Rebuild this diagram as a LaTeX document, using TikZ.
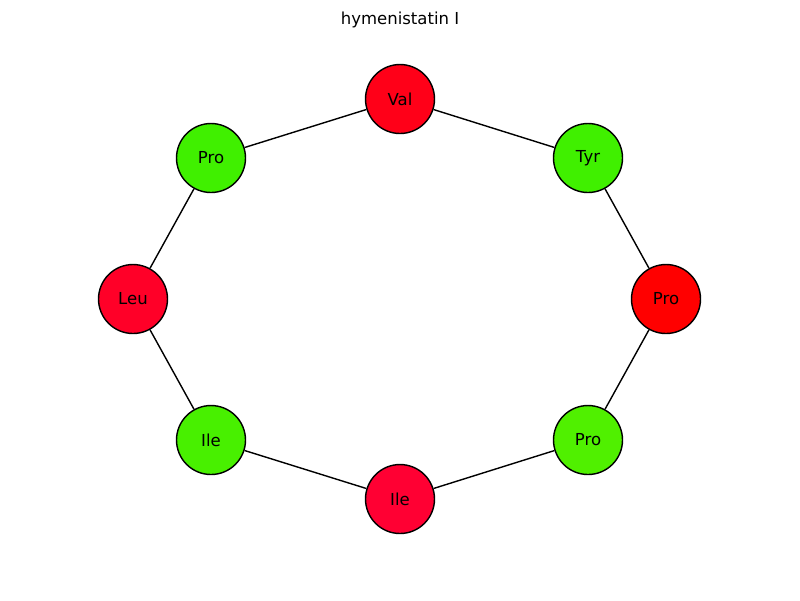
\documentclass[tikz,border=0pt]{standalone}
\usepackage{fontspec}
\setmainfont{DejaVu Sans}
\usepackage{xcolor}
\usetikzlibrary{shapes.geometric}

\definecolor{valred}{HTML}{FF0018}
\definecolor{tyrgreen}{HTML}{40F000}
\definecolor{prored}{HTML}{FF0000}
\definecolor{progreen}{HTML}{50F000}
\definecolor{ilered}{HTML}{FF0033}
\definecolor{ilegreen}{HTML}{48F000}
\definecolor{leured}{HTML}{FF0028}
\definecolor{pgreen}{HTML}{40F000}

\tikzset{
    residue/.style={circle, draw=black, line width=0.8pt, minimum size=1.38cm,
	inner sep=0pt, font=\fontsize{9.4}{11}\selectfont},
    bond/.style={black, line width=0.8pt}
}

\begin{document}
\begin{tikzpicture}[x=0.02cm, y=-0.02cm]
    \useasboundingbox (0, 0) rectangle (800, 600);
    \path (400, 20) node [font=\fontsize{9.4}{11}\selectfont] (title) {hymenistatin I};

    \path (400, 99) node [residue, fill=valred] (val) {Val};
    \path (588, 158) node [residue, fill=tyrgreen] (tyr) {Tyr};
    \path (666, 299) node [residue, fill=prored] (pro1) {Pro};
    \path (588, 440) node [residue, fill=progreen] (pro2) {Pro};
    \path (400, 499) node [residue, fill=ilered] (ile1) {Ile};
    \path (211, 440) node [residue, fill=ilegreen] (ile2) {Ile};
    \path (133, 299) node [residue, fill=leured] (leu) {Leu};
    \path (211, 158) node [residue, fill=pgreen] (pro3) {Pro};

    \draw [bond] (val) -- (tyr);
    \draw [bond] (tyr) -- (pro1);
    \draw [bond] (pro1) -- (pro2);
    \draw [bond] (pro2) -- (ile1);
    \draw [bond] (ile1) -- (ile2);
    \draw [bond] (ile2) -- (leu);
    \draw [bond] (leu) -- (pro3);
    \draw [bond] (pro3) -- (val);
\end{tikzpicture}
\end{document}
